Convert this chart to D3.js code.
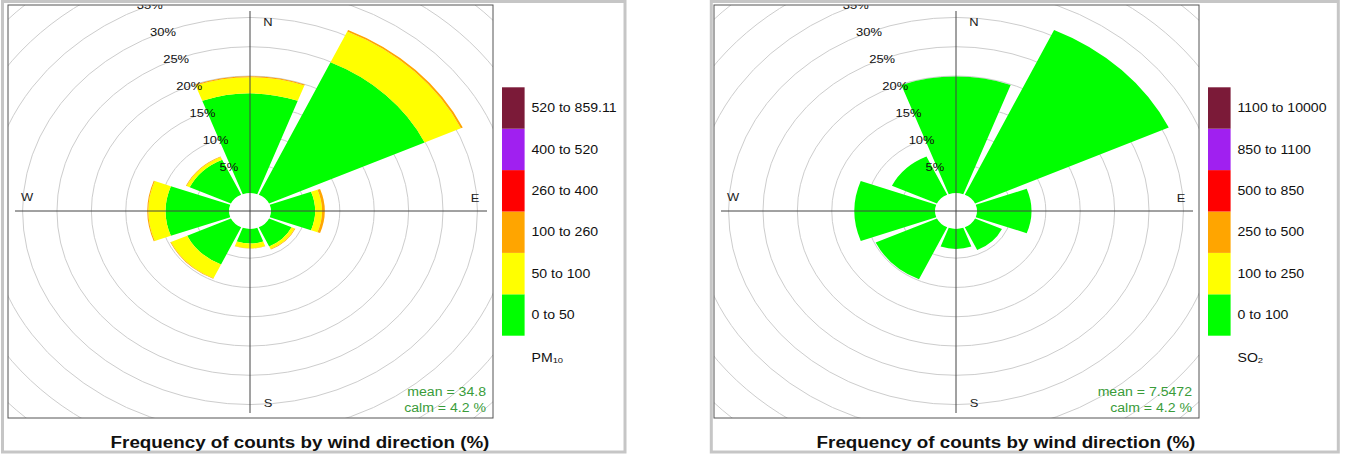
<!DOCTYPE html>
<html>
<head>
<meta charset="utf-8">
<script src="https://cdn.jsdelivr.net/npm/d3@7"></script>
<style>
  body { margin: 0; background: #fff; }
  svg { display: block; font-family: "Liberation Sans", Arial, sans-serif; }
</style>
</head>
<body>
<div id="chart"></div>
<script>
// wind sectors
const directions = ["N", "NE", "E", "SE", "S", "SW", "W", "NW"];
const dirAngles = [0, 45, 90, 135, 180, 225, 270, 315];

// PM10 frequency (%) per concentration band, one value per sector
const pm10Bin0 = [17.0, 24.9, 6.4, 3.6, 2.5, 7.0, 9.2, 6.6];   // 0 to 50
const pm10Bin1 = [2.8, 5.8, 1.0, 0.5, 0.8, 2.6, 2.5, 0.5];     // 50 to 100
const pm10Bin2 = [0.15, 0.3, 0.4, 0.1, 0.05, 0.1, 0.15, 0.1];  // 100 to 260
const pm10Bin3 = [0, 0, 0, 0, 0, 0, 0, 0];
const pm10Bin4 = [0, 0, 0, 0, 0, 0, 0, 0];
const pm10Bin5 = [0, 0, 0, 0, 0, 0, 0, 0];

// SO2 frequency (%) per band
const so2Bin0 = [19.9, 31.0, 7.9, 4.3, 3.4, 9.8, 11.7, 7.2];   // 0 to 100
const so2Bin1 = [0, 0, 0, 0, 0, 0, 0, 0];
const so2Bin2 = [0, 0, 0, 0, 0, 0, 0, 0];
const so2Bin3 = [0, 0, 0, 0, 0, 0, 0, 0];
const so2Bin4 = [0, 0, 0, 0, 0, 0, 0, 0];
const so2Bin5 = [0, 0, 0, 0, 0, 0, 0, 0];

const pm10Labels = ["0 to 50", "50 to 100", "100 to 260", "260 to 400", "400 to 520", "520 to 859.11"];
const so2Labels = ["0 to 100", "100 to 250", "250 to 500", "500 to 850", "850 to 1100", "1100 to 10000"];
const binColors = ["#00ff00", "#ffff00", "#ffa500", "#ff0000", "#a020f0", "#7b1a38"];

const ringPcts = [5, 10, 15, 20, 25, 30, 35, 40, 45, 50, 55, 60];
const tickPcts = [5, 10, 15, 20, 25, 30, 35];

const panels = [
  { ox: 0, series: [pm10Bin0, pm10Bin1, pm10Bin2, pm10Bin3, pm10Bin4, pm10Bin5],
    labels: pm10Labels, name: "PM", sub: "10", mean: "mean = 34.8", calm: "calm = 4.2 %",
    frame: [2.5, 625] },
  { ox: 706, series: [so2Bin0, so2Bin1, so2Bin2, so2Bin3, so2Bin4, so2Bin5],
    labels: so2Labels, name: "SO", sub: "2", mean: "mean = 7.5472", calm: "calm = 4.2 %",
    frame: [711.3, 1338.3] }
];

const width = 1365, height = 457;
const SX = 1.175;            // picture is stretched horizontally
const halfWidth = 20.25;     // half angular width of a sector

const svg = d3.select("#chart").append("svg")
  .attr("width", width).attr("height", height)
  .attr("viewBox", [0, 0, width, height]);

// radius in percent (unstretched units)
const r = d3.scaleLinear().domain([0, 35]).range([17.9, 17.9 + 35 * 5.855]);
const rad = a => a * Math.PI / 180;

// text stretched like the rest of the picture
function stext(parent, x, y, str) {
  return parent.append("text")
    .attr("transform", `translate(${x},${y}) scale(${SX},1)`)
    .text(str);
}

panels.forEach((p, pi) => {
  const ox = p.ox;
  const cx = ox + 250, cy = 211;
  const box = { x0: ox + 8, x1: ox + 493, y0: 5, y1: 418 };

  // outer grey panel frame
  svg.append("rect")
    .attr("x", p.frame[0]).attr("y", 1.5)
    .attr("width", p.frame[1] - p.frame[0]).attr("height", 450.5)
    .attr("fill", "#fff").attr("stroke", "#c6c6c6").attr("stroke-width", 3);

  svg.append("clipPath").attr("id", "clip" + pi)
    .append("rect")
    .attr("x", box.x0).attr("y", box.y0)
    .attr("width", box.x1 - box.x0).attr("height", box.y1 - box.y0);

  const plot = svg.append("g").attr("clip-path", `url(#clip${pi})`);

  const rose = plot.append("g")
    .attr("transform", `translate(${cx},${cy}) scale(${SX},1)`);

  // grid rings
  rose.selectAll(".ring")
    .data(ringPcts)
    .join("circle")
    .attr("class", "ring")
    .attr("r", d => r(d))
    .attr("fill", "none")
    .attr("stroke", "#cdcdcd")
    .attr("stroke-width", 1)
    .attr("vector-effect", "non-scaling-stroke");

  // axes cross
  plot.append("line")
    .attr("x1", cx).attr("x2", cx).attr("y1", 11).attr("y2", 413)
    .attr("stroke", "#444").attr("stroke-width", 1);
  plot.append("line")
    .attr("x1", ox + 15).attr("x2", ox + 487).attr("y1", cy).attr("y2", cy)
    .attr("stroke", "#444").attr("stroke-width", 1);

  // stacked sectors
  const stackData = [];
  directions.forEach((dname, i) => {
    let cum = 0;
    p.series.forEach((s, b) => {
      if (s[i] > 0) {
        stackData.push({ angle: dirAngles[i], lo: cum, hi: cum + s[i], bin: b });
      }
      cum += s[i];
    });
  });

  const arc = d3.arc()
    .innerRadius(d => r(d.lo))
    .outerRadius(d => r(d.hi))
    .startAngle(d => rad(d.angle - halfWidth))
    .endAngle(d => rad(d.angle + halfWidth));

  rose.selectAll(".sector")
    .data(stackData)
    .join("path")
    .attr("class", "sector")
    .attr("d", arc)
    .attr("fill", d => binColors[d.bin]);

  // percentage labels along the gap at -22.5 deg
  const la = rad(-22.5);
  tickPcts.forEach(t => {
    stext(plot, cx + SX * r(t) * Math.sin(la), cy - r(t) * Math.cos(la), t + "%")
      .attr("text-anchor", "middle")
      .attr("dominant-baseline", "central")
      .attr("font-size", 11)
      .attr("fill", "#111");
  });

  // compass letters
  const compass = [["N", cx + 18, 22], ["E", cx + 225, 198], ["S", cx + 18, 403], ["W", ox + 27, 197]];
  compass.forEach(([t, x, y]) => {
    stext(plot, x, y, t)
      .attr("text-anchor", "middle")
      .attr("dominant-baseline", "central")
      .attr("font-size", 11)
      .attr("fill", "#222");
  });

  // plot box
  svg.append("rect")
    .attr("x", box.x0).attr("y", box.y0)
    .attr("width", box.x1 - box.x0).attr("height", box.y1 - box.y0)
    .attr("fill", "none").attr("stroke", "#555").attr("stroke-width", 1);

  // mean / calm
  stext(svg, ox + 486, 392, p.mean)
    .attr("text-anchor", "end").attr("dominant-baseline", "central")
    .attr("font-size", 12).attr("fill", "#3a9c3a");
  stext(svg, ox + 486, 408, p.calm)
    .attr("text-anchor", "end").attr("dominant-baseline", "central")
    .attr("font-size", 12).attr("fill", "#3a9c3a");

  // title
  stext(svg, ox + 300, 443, "Frequency of counts by wind direction (%)")
    .attr("text-anchor", "middle").attr("dominant-baseline", "central")
    .attr("font-size", 16).attr("font-weight", "bold").attr("fill", "#111");

  // legend
  const ly = d3.scaleBand()
    .domain(d3.range(binColors.length).reverse())
    .range([87.3, 335.7]);

  svg.selectAll(".key" + pi)
    .data(d3.range(binColors.length))
    .join("rect")
    .attr("class", "key" + pi)
    .attr("x", ox + 502).attr("width", 22.6)
    .attr("y", d => ly(d)).attr("height", ly.bandwidth())
    .attr("fill", d => binColors[d]);

  d3.range(binColors.length).forEach(b => {
    stext(svg, ox + 531.5, ly(b) + ly.bandwidth() / 2, p.labels[b])
      .attr("dominant-baseline", "central")
      .attr("font-size", 12).attr("fill", "#111");
  });

  const pol = stext(svg, ox + 531.5, 357, "")
    .attr("dominant-baseline", "central")
    .attr("font-size", 12).attr("fill", "#111");
  pol.append("tspan").text(p.name);
  pol.append("tspan").attr("font-size", 8).attr("dy", 3).text(p.sub);
});
</script>
</body>
</html>
